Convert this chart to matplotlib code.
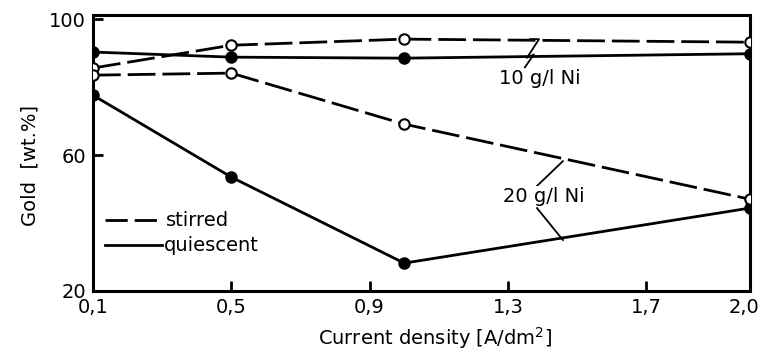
import matplotlib
matplotlib.use("Agg")
import matplotlib.pyplot as plt
import matplotlib.transforms as mtransforms

# current density [A/dm2]
current = [0.1, 0.5, 1.0, 2.0]

# gold content [wt.%]
stirred_10 = [85.6, 92.3, 94.1, 93.2]
quiescent_10 = [90.3, 88.8, 88.5, 89.8]
stirred_20 = [83.5, 84.1, 69.1, 47.0]
quiescent_20 = [77.6, 53.5, 28.2, 44.4]

xticks = [0.1, 0.5, 0.9, 1.3, 1.7, 2.0]
xtick_labels = ["0,1", "0,5", "0,9", "1,3", "1,7", "2,0"]
yticks = [20, 60, 100]

plt.rcParams["font.family"] = "DejaVu Sans"

fig = plt.figure(figsize=(7.61, 3.52), dpi=100)
ax = fig.add_axes([0.1222, 0.1733, 0.8633, 0.7841])

lw = 2.0
dash = (10, 2.5)
open_marker = dict(marker="o", markersize=7.5, markerfacecolor="white",
                   markeredgecolor="black", markeredgewidth=1.5)
full_marker = dict(marker="o", markersize=8, markerfacecolor="black",
                   markeredgecolor="black")

ax.plot(current, stirred_10, color="black", lw=lw, dashes=dash, zorder=3, **open_marker)
ax.plot(current, stirred_20, color="black", lw=lw, dashes=dash, zorder=3, **open_marker)
ax.plot(current, quiescent_10, color="black", lw=lw, zorder=2, **full_marker)
ax.plot(current, quiescent_20, color="black", lw=lw, zorder=2, **full_marker)

# leader lines to the labels
ax.plot([1.364, 1.390, 1.355, 1.375, 1.349], [94.1, 94.1, 88.6, 89.6, 85.8],
        color="black", lw=1.3)
ax.text(1.393, 82.6, "10 g/l Ni", ha="center", va="center", fontsize=14)
ax.plot([1.459, 1.384], [58.2, 50.9], color="black", lw=1.3)
ax.plot([1.384, 1.459], [44.4, 35.0], color="black", lw=1.3)
ax.text(1.405, 47.8, "20 g/l Ni", ha="center", va="center", fontsize=14,
        bbox=dict(facecolor="white", edgecolor="none", pad=0.5))

# legend drawn by hand
ax.plot([0.135, 0.298], [40.8, 40.8], color="black", lw=lw, dashes=(8, 2.5))
ax.text(0.31, 40.8, "stirred", ha="left", va="center", fontsize=14)
ax.plot([0.135, 0.300], [33.5, 33.5], color="black", lw=lw)
ax.text(0.305, 33.5, "quiescent", ha="left", va="center", fontsize=14)

ax.set_xlim(0.1, 2.0)
ax.set_ylim(20, 101.2)
ax.set_xticks(xticks)
ax.set_xticklabels(xtick_labels)
ax.set_yticks(yticks)
ax.tick_params(direction="in", length=7, width=2, labelsize=14, pad=5)
for s in ax.spines.values():
    s.set_linewidth(2.2)

# keep the last tick label inside the figure
last = ax.get_xticklabels()[-1]
last.set_transform(last.get_transform() +
                   mtransforms.ScaledTranslation(-0.06, 0, fig.dpi_scale_trans))

fig.text(435 / 761, 1 - 338 / 352, "Current density [A/dm$^2$]",
         ha="center", va="center", fontsize=14)
fig.text(30 / 761, 1 - 165 / 352, "Gold  [wt.%]", rotation=90,
         ha="center", va="center", fontsize=14)

fig.savefig("out.png", dpi=100)
